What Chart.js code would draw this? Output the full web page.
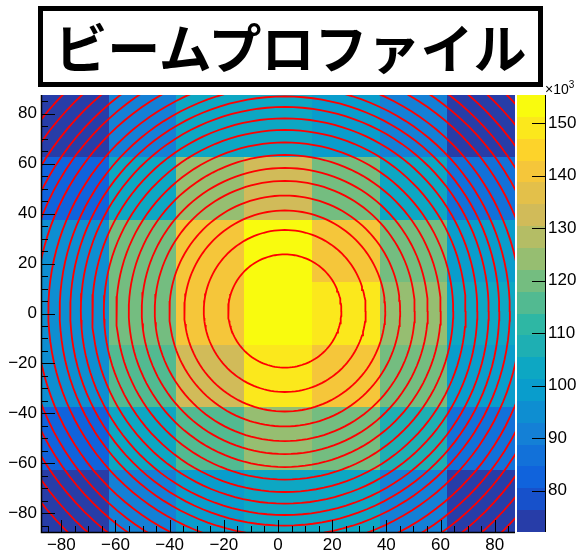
<!DOCTYPE html>
<html>
<head>
<meta charset="utf-8">
<script src="https://cdn.jsdelivr.net/npm/chart.js@4.4.1/dist/chart.umd.min.js"></script>
<style>
  html, body { margin: 0; padding: 0; background: #fff; }
  #wrap { position: relative; width: 581px; height: 554px; overflow: hidden; }
  #title {
    position: absolute; left: 38px; top: 6px; width: 505px; height: 81px;
    box-sizing: border-box; border: 5px solid #000; background: #fff;
    font-family: "Noto Sans CJK JP", sans-serif; font-weight: 700; font-size: 53px;
    line-height: 71px; text-align: center; color: #000; letter-spacing: 0;
  }
</style>
</head>
<body>
<div id="wrap">
  <canvas id="chart" width="581" height="554"></canvas>
  <div id="title">ビームプロファイル</div>
</div>
<script>
// bin centres (x left to right, y top to bottom), width 25
const xCenters = [-75, -50, -25, 0, 25, 50, 75];
const yCenters = [75, 50, 25, 0, -25, -50, -75];
const binWidth = 25;

// bin contents, one array per row
const rowY75  = [73400, 90200, 103100, 104300, 98600, 89900, 72100];
const rowY50  = [82600, 102800, 124100, 132600, 119800, 103900, 86300];
const rowY25  = [94400, 120300, 140600, 155400, 141900, 119200, 99700];
const rowY0   = [95300, 119600, 141200, 153900, 149300, 123700, 102900];
const rowYm25 = [94100, 115800, 131900, 148600, 140200, 120900, 98300];
const rowYm50 = [81900, 102300, 116400, 124800, 121100, 107300, 85200];
const rowYm75 = [74600, 89800, 98900, 104100, 102600, 91300, 73900];
const counts = [rowY75, rowY50, rowY25, rowY0, rowYm25, rowYm50, rowYm75];

// axis tick labels
const xTicks = [-80, -60, -40, -20, 0, 20, 40, 60, 80];
const yTicks = [-80, -60, -40, -20, 0, 20, 40, 60, 80];
const zTicks = [80000, 90000, 100000, 110000, 120000, 130000, 140000, 150000];

// fitted profile contours: centre and radii (x units), y stretched by ringAspect
const ringCenter = [2.5, 1.0];
const ringRadius = [20.9, 29.9, 37.1, 42.6, 48.0, 52.8, 57.6, 62.2, 66.8, 71.1,
                    75.3, 79.2, 83.1, 87.3, 91.9, 96.2, 100.2, 104.7, 109.4, 114.4];
const ringAspect = 1.085;

const nLevels = 20;
const allCounts = counts.flat();
const zMin = Math.min(...allCounts);
const zMax = Math.max(...allCounts);

// kBird palette
const birdStops = [0.0000, 0.1250, 0.2500, 0.3750, 0.5000, 0.6250, 0.7500, 0.8750, 1.0000];
const birdR = [0.2082, 0.0592, 0.0780, 0.0232, 0.1802, 0.5301, 0.8186, 0.9956, 0.9764];
const birdG = [0.1664, 0.3599, 0.5041, 0.6419, 0.7178, 0.7492, 0.7328, 0.7862, 0.9832];
const birdB = [0.5293, 0.8684, 0.8385, 0.7914, 0.6425, 0.4662, 0.3499, 0.1968, 0.0539];

function bird(f) {
  let i = 0;
  while (i < birdStops.length - 2 && f > birdStops[i + 1]) i++;
  const t = (f - birdStops[i]) / (birdStops[i + 1] - birdStops[i]);
  const c = arr => Math.round(255 * (arr[i] + t * (arr[i + 1] - arr[i])));
  return `rgb(${c(birdR)},${c(birdG)},${c(birdB)})`;
}

function levelColor(level) {
  const idx = Math.floor((level + 0.99) * 255 / nLevels);
  return bird(Math.min(idx, 254) / 254);
}

function levelOf(v) {
  let l = Math.floor((v - zMin) / (zMax - zMin) * nLevels);
  return Math.max(0, Math.min(nLevels - 1, l));
}

const fontFamily = '"Liberation Sans", Arial, Helvetica, sans-serif';
Chart.defaults.font.family = fontFamily;
Chart.defaults.font.size = 17;
Chart.defaults.color = '#000';

const rings = ringRadius.map(r => ({
  data: Array.from({ length: 145 }, (_, k) => {
    const t = k / 144 * 2 * Math.PI;
    return { x: ringCenter[0] + r * Math.cos(t), y: ringCenter[1] + r * ringAspect * Math.sin(t) };
  }),
  showLine: true,
  borderColor: '#ff0000',
  borderWidth: 1.8,
  pointRadius: 0,
  fill: false,
  tension: 0
}));

// histogram cells, axis ticks and colour palette
const colzPlugin = {
  id: 'colz',
  beforeDatasetsDraw(chart) {
    const { ctx, scales: { x, y } } = chart;
    ctx.save();
    counts.forEach((row, r) => {
      row.forEach((v, c) => {
        const x0 = Math.round(x.getPixelForValue(xCenters[c] - binWidth / 2));
        const x1 = Math.round(x.getPixelForValue(xCenters[c] + binWidth / 2));
        const y0 = Math.round(y.getPixelForValue(yCenters[r] + binWidth / 2));
        const y1 = Math.round(y.getPixelForValue(yCenters[r] - binWidth / 2));
        ctx.fillStyle = levelColor(levelOf(v));
        ctx.fillRect(x0, y0, x1 - x0, y1 - y0);
      });
    });
    ctx.restore();
  },
  afterDatasetsDraw(chart) {
    const { ctx, chartArea: a, scales: { x, y } } = chart;
    ctx.save();
    ctx.strokeStyle = '#000';
    ctx.lineWidth = 1;
    ctx.beginPath();
    for (let v = -85; v <= 85; v += 5) {
      const major = v % 20 === 0;
      const py = Math.round(y.getPixelForValue(v)) + 0.5;
      ctx.moveTo(a.left, py);
      ctx.lineTo(a.left + (major ? 14 : 7), py);
      const px = Math.round(x.getPixelForValue(v)) + 0.5;
      ctx.moveTo(px, a.bottom);
      ctx.lineTo(px, a.bottom - (major ? 12 : 6));
    }
    ctx.stroke();
    ctx.lineWidth = 1.5;
    ctx.beginPath();
    ctx.moveTo(a.left + 0.5, a.top);
    ctx.lineTo(a.left + 0.5, a.bottom + 0.5);
    ctx.lineTo(a.right, a.bottom + 0.5);
    ctx.stroke();
    ctx.restore();
  },
  afterDraw(chart) {
    const { ctx, scales: { z } } = chart;
    const left = z.left + 2, right = z.left + 30;
    ctx.save();
    const dz = (zMax - zMin) / nLevels;
    for (let i = 0; i < nLevels; i++) {
      const yb = Math.round(z.getPixelForValue(zMin + i * dz));
      const yt = Math.round(z.getPixelForValue(zMin + (i + 1) * dz));
      ctx.fillStyle = levelColor(i);
      ctx.fillRect(left, yt, right - left, yb - yt);
    }
    ctx.strokeStyle = '#000';
    ctx.lineWidth = 1;
    ctx.beginPath();
    ctx.moveTo(right + 0.5, z.top);
    ctx.lineTo(right + 0.5, z.bottom);
    zTicks.forEach(v => {
      const py = Math.round(z.getPixelForValue(v)) + 0.5;
      ctx.moveTo(right, py);
      ctx.lineTo(right - 13, py);
    });
    ctx.stroke();
    ctx.fillStyle = '#000';
    ctx.textBaseline = 'alphabetic';
    ctx.font = '14px ' + fontFamily;
    ctx.fillText('\u00d710', right, z.top - 1);
    const w = ctx.measureText('\u00d710').width;
    ctx.font = '10px ' + fontFamily;
    ctx.fillText('3', right + w, z.top - 7);
    ctx.restore();
  }
};

const minus = v => (v < 0 ? '\u2212' + Math.abs(v) : String(v));

// fixed axis sizes so the frame sits where the palette expects it
const fixWidth = w => s => { s.width = w; s.paddingTop = 0; s.paddingBottom = 0; };

new Chart(document.querySelector('#chart').getContext('2d'), {
  type: 'scatter',
  data: { datasets: rings },
  options: {
    responsive: false,
    animation: false,
    events: [],
    layout: { padding: { top: 95, left: 0, right: 0, bottom: 0 } },
    plugins: { legend: { display: false }, tooltip: { enabled: false }, title: { display: false } },
    scales: {
      x: {
        type: 'linear', min: -87.5, max: 87.5,
        grid: { display: false, drawTicks: false }, border: { display: false },
        afterBuildTicks: s => { s.ticks = xTicks.map(v => ({ value: v })); },
        afterFit: s => { s.height = 22; s.paddingLeft = 0; s.paddingRight = 0; },
        ticks: { padding: 3, maxRotation: 0, autoSkip: false, callback: minus }
      },
      y: {
        type: 'linear', min: -87.5, max: 87.5,
        grid: { display: false, drawTicks: false }, border: { display: false },
        afterBuildTicks: s => { s.ticks = yTicks.map(v => ({ value: v })); },
        afterFit: fixWidth(41),
        ticks: { padding: 4, autoSkip: false, callback: minus }
      },
      z: {
        type: 'linear', position: 'right', min: zMin, max: zMax,
        grid: { display: false, drawTicks: false }, border: { display: false },
        afterBuildTicks: s => { s.ticks = zTicks.map(v => ({ value: v })); },
        afterFit: fixWidth(66),
        ticks: { padding: 33, autoSkip: false, callback: v => String(v / 1000) }
      }
    }
  },
  plugins: [colzPlugin]
});
</script>
</body>
</html>
